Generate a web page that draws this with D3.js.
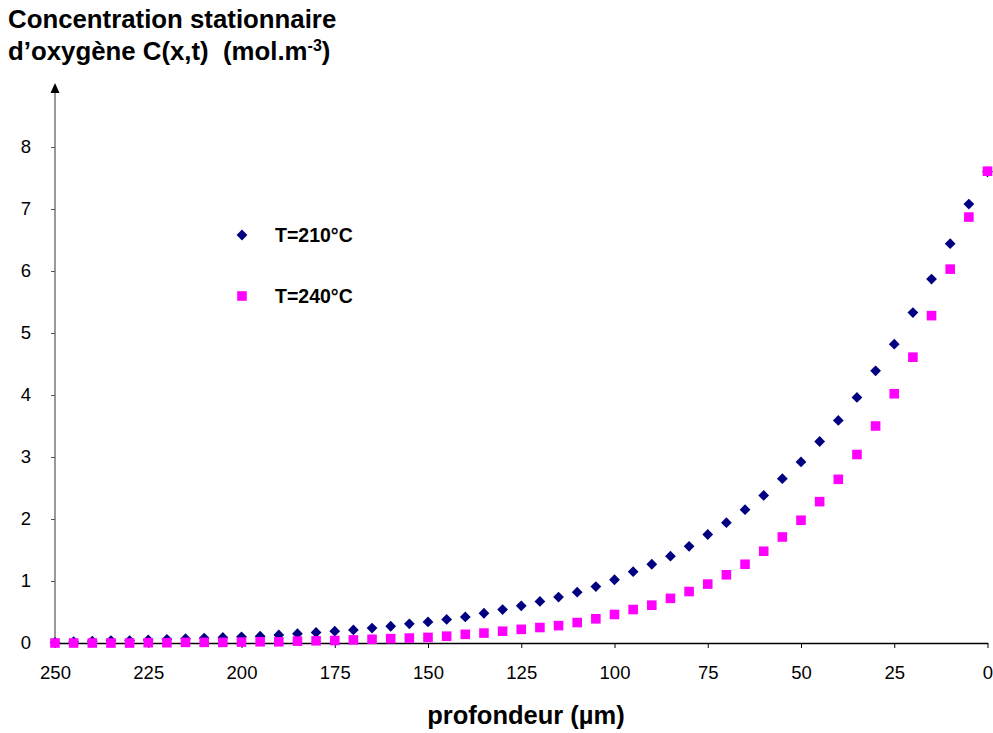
<!DOCTYPE html>
<html>
<head>
<meta charset="utf-8">
<script src="https://cdn.jsdelivr.net/npm/d3@7"></script>
<style>
  html, body { margin: 0; padding: 0; background: #fff; }
  svg { display: block; font-family: "Liberation Sans", Arial, sans-serif; }
  text { white-space: pre; }
</style>
</head>
<body>
<svg id="chart" width="993" height="733"></svg>
<script>
// ---- data ----
const depth = [0, 5, 10, 15, 20, 25, 30, 35, 40, 45, 50, 55, 60, 65, 70, 75, 80, 85, 90, 95,
  100, 105, 110, 115, 120, 125, 130, 135, 140, 145, 150, 155, 160, 165, 170, 175, 180, 185, 190, 195,
  200, 205, 210, 215, 220, 225, 230, 235, 240, 245, 250];

const conc210 = [7.60, 7.08, 6.44, 5.87, 5.33, 4.82, 4.39, 3.96, 3.59, 3.25, 2.92, 2.65, 2.38, 2.15, 1.94, 1.75, 1.56, 1.40, 1.27, 1.15,
  1.02, 0.91, 0.82, 0.74, 0.67, 0.60, 0.54, 0.48, 0.42, 0.38, 0.34, 0.31, 0.27, 0.24, 0.21, 0.19, 0.17, 0.15, 0.13, 0.11,
  0.10, 0.09, 0.08, 0.07, 0.06, 0.05, 0.04, 0.04, 0.03, 0.02, 0.01];

const conc240 = [7.61, 6.87, 6.03, 5.28, 4.61, 4.02, 3.50, 3.04, 2.64, 2.28, 1.98, 1.71, 1.48, 1.27, 1.10, 0.95, 0.83, 0.72, 0.61, 0.54,
  0.46, 0.39, 0.33, 0.28, 0.25, 0.22, 0.19, 0.16, 0.14, 0.11, 0.09, 0.08, 0.07, 0.06, 0.05, 0.04, 0.035, 0.03, 0.02, 0.02,
  0.015, 0.01, 0.01, 0.01, 0.005, 0.005, 0, 0, 0, 0, 0];

const seriesNames = ["T=210°C", "T=240°C"];
const xTicks = [250, 225, 200, 175, 150, 125, 100, 75, 50, 25, 0];
const yTicks = [0, 1, 2, 3, 4, 5, 6, 7, 8];

// ---- drawing ----
const svg = d3.select("#chart");
const x = d3.scaleLinear().domain([250, 0]).range([55, 987.5]);
const y = d3.scaleLinear().domain([0, 8]).range([643, 147]);

// y axis
const yAxis = svg.append("g")
  .attr("transform", "translate(55,0)")
  .call(d3.axisLeft(y).tickValues(yTicks).tickSize(4).tickPadding(20).tickSizeOuter(0).tickFormat(d3.format("d")));
yAxis.select(".domain").remove();
yAxis.selectAll(".tick line").attr("stroke", "#555");
yAxis.selectAll("text").attr("font-size", 18.5).attr("fill", "#000")
  .attr("font-family", "Liberation Sans, Arial, sans-serif");
svg.append("line").attr("x1", 55).attr("x2", 55).attr("y1", y(0)).attr("y2", 90)
  .attr("stroke", "#555").attr("stroke-width", 1.2);
svg.append("path").attr("d", "M55,83 L50.5,93 L59.5,93 Z").attr("fill", "#000");

// x axis
const xAxis = svg.append("g")
  .attr("transform", `translate(0,${y(0)})`)
  .call(d3.axisBottom(x).tickValues(xTicks).tickSize(5).tickPadding(18).tickSizeOuter(0).tickFormat(d3.format("d")));
xAxis.select(".domain").attr("stroke", "#000").attr("stroke-width", 1.5);
xAxis.selectAll(".tick line").attr("stroke", "#000");
xAxis.selectAll("text").attr("font-size", 18.5).attr("fill", "#000")
  .attr("font-family", "Liberation Sans, Arial, sans-serif");

// markers
const diamond = d3.symbol().type(d3.symbolSquare).size(58);
const square = d3.symbol().type(d3.symbolSquare).size(92);

svg.append("g").selectAll("path").data(depth.map((d, i) => [d, conc210[i]])).join("path")
  .attr("d", diamond)
  .attr("transform", d => `translate(${x(d[0])},${y(d[1])}) rotate(45)`)
  .attr("fill", "#000080");

svg.append("g").selectAll("path").data(depth.map((d, i) => [d, conc240[i]])).join("path")
  .attr("d", square)
  .attr("transform", d => `translate(${x(d[0])},${y(d[1])})`)
  .attr("fill", "#ff00ff");

// legend
const leg = svg.append("g");
leg.append("path").attr("d", diamond).attr("transform", "translate(242,235) rotate(45)").attr("fill", "#000080");
leg.append("path").attr("d", square).attr("transform", "translate(242,296)").attr("fill", "#ff00ff");
leg.append("text").attr("x", 275).attr("y", 242).attr("font-size", 19.5).attr("font-weight", "bold").text(seriesNames[0]);
leg.append("text").attr("x", 275).attr("y", 303).attr("font-size", 19.5).attr("font-weight", "bold").text(seriesNames[1]);

// titles
svg.append("text").attr("x", 8).attr("y", 28).attr("font-size", 25.8).attr("font-weight", "bold")
  .text("Concentration stationnaire");
const t2 = svg.append("text").attr("x", 8).attr("y", 60).attr("font-size", 25.8).attr("font-weight", "bold");
t2.append("tspan").text("d’oxygène C(x,t)  (mol.m");
t2.append("tspan").attr("font-size", 16).attr("dy", -9).text("-3");
t2.append("tspan").attr("dy", 9).text(")");

svg.append("text").attr("x", 526).attr("y", 724).attr("text-anchor", "middle")
  .attr("font-size", 25.5).attr("font-weight", "bold").text("profondeur (µm)");
</script>
</body>
</html>
